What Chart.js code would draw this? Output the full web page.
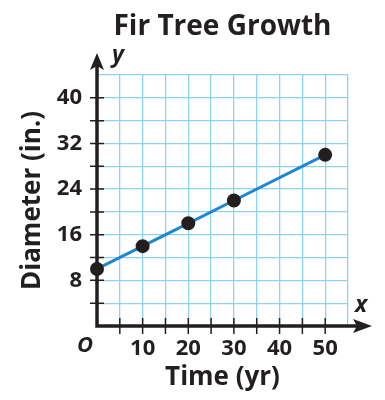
<!doctype html>
<html>
  <head>
    <title>Fir Tree Growth</title>
    <script src="https://cdn.jsdelivr.net/npm/chart.js"></script>
    <style>
      html,
      body {
        margin: 0;
        padding: 0;
        background: #fff;
      }
      #wrap {
        position: relative;
        width: 385px;
        height: 400px;
      }
    </style>
  </head>

  <body>
    <div id="wrap"><canvas id="growthChart"></canvas></div>

    <script>
      // chart data
      var chartTitle = "Fir Tree Growth";
      var xTitle = "Time (yr)";
      var yTitle = "Diameter (in.)";
      var years = [0, 10, 20, 30, 50];
      var diameters = [10, 14, 18, 22, 30];
      var xTickLabels = [10, 20, 30, 40, 50];
      var yTickLabels = [8, 16, 24, 32, 40];

      var ink = "#231f20";
      var gridBlue = "#8fd2f0";
      var fontFamily = "'Open Sans', sans-serif";

      Chart.defaults.font.family = fontFamily;
      Chart.defaults.color = ink;

      // axis lines with arrows, little tick marks, title and x / y / O labels
      var axesPlugin = {
        id: "axes",
        beforeDatasetsDraw: function (chart) {
          var ctx = chart.ctx;
          var xs = chart.scales.x;
          var ys = chart.scales.y;
          var area = chart.chartArea;
          var x0 = xs.getPixelForValue(0);
          var y0 = ys.getPixelForValue(0);

          ctx.save();
          ctx.strokeStyle = ink;
          ctx.fillStyle = ink;

          // tick marks
          ctx.lineWidth = 1.5;
          ctx.beginPath();
          xs.ticks.forEach(function (t) {
            if (t.value > 0 && t.value < xs.max) {
              var px = xs.getPixelForValue(t.value);
              ctx.moveTo(px, y0 - 8);
              ctx.lineTo(px, y0 + 8);
            }
          });
          ys.ticks.forEach(function (t) {
            if (t.value > 0 && t.value < ys.max) {
              var py = ys.getPixelForValue(t.value);
              ctx.moveTo(x0 - 7, py);
              ctx.lineTo(x0 + 7, py);
            }
          });
          ctx.stroke();

          // axis lines
          ctx.lineWidth = 3.5;
          ctx.lineCap = "square";
          ctx.beginPath();
          ctx.moveTo(x0, area.top - 10);
          ctx.lineTo(x0, y0);
          ctx.lineTo(area.right + 10, y0);
          ctx.stroke();

          // arrow heads
          var yTip = area.top - 22;
          ctx.beginPath();
          ctx.moveTo(x0, yTip);
          ctx.lineTo(x0 + 7, yTip + 17);
          ctx.lineTo(x0, yTip + 13);
          ctx.lineTo(x0 - 7, yTip + 17);
          ctx.closePath();
          ctx.fill();

          var xTip = area.right + 24;
          ctx.beginPath();
          ctx.moveTo(xTip, y0);
          ctx.lineTo(xTip - 19, y0 - 7);
          ctx.lineTo(xTip - 15, y0);
          ctx.lineTo(xTip - 19, y0 + 7);
          ctx.closePath();
          ctx.fill();
          ctx.restore();
        },
        afterDraw: function (chart) {
          var ctx = chart.ctx;
          var area = chart.chartArea;
          var x0 = chart.scales.x.getPixelForValue(0);
          var y0 = chart.scales.y.getPixelForValue(0);

          ctx.save();
          ctx.fillStyle = ink;
          ctx.textBaseline = "alphabetic";

          ctx.font = "bold 28px " + fontFamily;
          ctx.textAlign = "center";
          ctx.fillText(chartTitle, (area.left + area.right) / 2, 35);

          ctx.font = "italic bold 23px " + fontFamily;
          ctx.textAlign = "left";
          ctx.fillText("y", x0 + 15, area.top - 13);
          ctx.fillText("x", area.right + 7, y0 - 14);

          ctx.font = "italic bold 22px " + fontFamily;
          ctx.textAlign = "right";
          ctx.fillText("O", x0 - 4, y0 + 26);
          ctx.restore();
        },
      };

      var ctx = document.getElementById("growthChart").getContext("2d");
      var chart = new Chart(ctx, {
        type: "scatter",
        data: {
          datasets: [
            {
              label: "Diameter",
              data: years.map(function (yr, i) {
                return { x: yr, y: diameters[i] };
              }),
              showLine: true,
              borderColor: "#1e88cf",
              borderWidth: 3,
              pointBackgroundColor: ink,
              pointBorderColor: ink,
              pointRadius: 5.5,
              clip: false,
            },
          ],
        },
        options: {
          responsive: true,
          maintainAspectRatio: false,
          animation: false,
          layout: {
            padding: { top: 75, right: 37, left: 0, bottom: 0 },
          },
          plugins: {
            legend: { display: false },
            tooltip: { enabled: false },
          },
          scales: {
            x: {
              type: "linear",
              min: 0,
              max: 55,
              afterFit: function (scale) {
                scale.height = 74;
              },
              border: { display: false },
              grid: { color: gridBlue, lineWidth: 1.3, drawTicks: false },
              ticks: {
                stepSize: 5,
                autoSkip: false,
                maxRotation: 0,
                padding: 10,
                font: { size: 22, weight: "bold" },
                callback: function (v) {
                  return xTickLabels.indexOf(v) >= 0 ? v : "";
                },
              },
              title: {
                display: true,
                text: xTitle,
                font: { size: 26, weight: "bold", lineHeight: 1 },
                padding: { top: 0, bottom: 9 },
              },
            },
            y: {
              type: "linear",
              min: 0,
              max: 44,
              afterFit: function (scale) {
                scale.width = 97;
              },
              border: { display: false },
              grid: { color: gridBlue, lineWidth: 1.3, drawTicks: false },
              ticks: {
                stepSize: 4,
                autoSkip: false,
                padding: 15,
                font: { size: 22, weight: "bold" },
                callback: function (v) {
                  return yTickLabels.indexOf(v) >= 0 ? v : "";
                },
              },
              title: {
                display: true,
                text: yTitle,
                font: { size: 26, weight: "bold", lineHeight: 1 },
                padding: { top: 20, bottom: 0 },
              },
            },
          },
        },
        plugins: [axesPlugin],
      });
    </script>
  </body>
</html>
